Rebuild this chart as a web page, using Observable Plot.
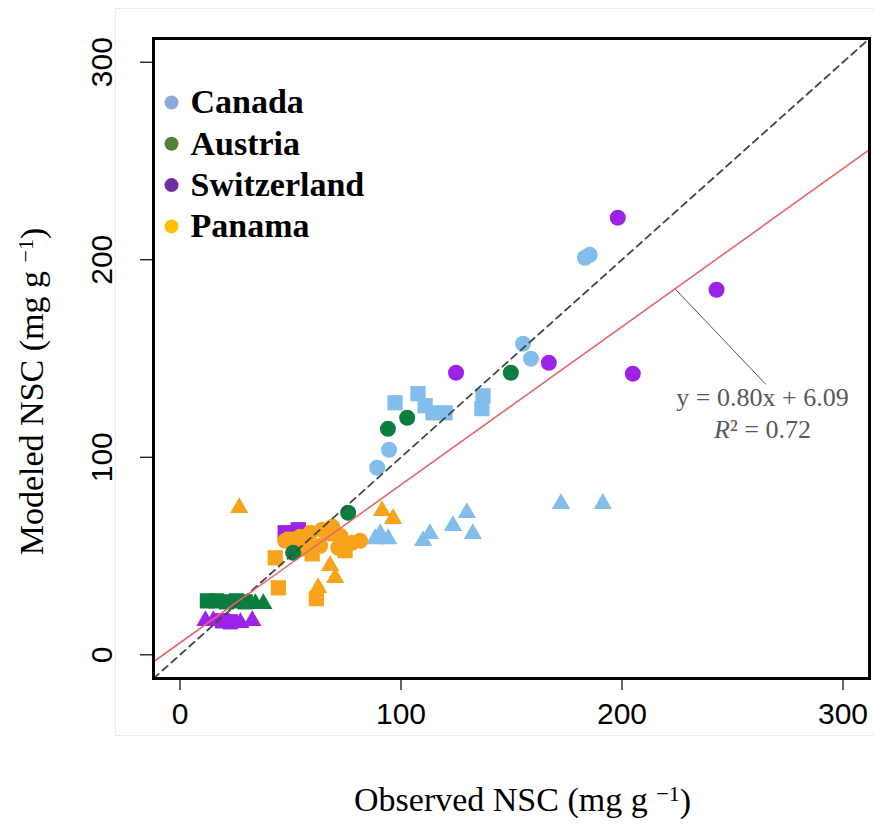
<!DOCTYPE html>
<html><head><meta charset="utf-8">
<script src="https://cdn.jsdelivr.net/npm/d3@7"></script>
<script src="https://cdn.jsdelivr.net/npm/@observablehq/plot@0.6"></script>
<style>
body{margin:0;background:#fff;}
#wrap{position:relative;width:874px;height:825px;overflow:hidden;}
#border{position:absolute;left:115px;top:8px;width:765px;height:728px;border:1px solid #ececec;box-sizing:border-box;pointer-events:none;}
#wrap svg{position:absolute;left:0;top:0;}
</style></head><body><div id="wrap"><div id="border"></div></div>
<script>
// ---- data: [observed NSC, modeled NSC, shape] ----
const canada = [
  [89.2, 94.7, "circle"], [94.6, 103.8, "circle"], [155.2, 157.5, "circle"], [158.8, 149.9, "circle"],
  [183.2, 201.0, "circle"], [185.4, 202.5, "circle"],
  [97.3, 127.6, "square"], [107.7, 132.2, "square"], [110.9, 126.1, "square"], [114.5, 122.5, "square"],
  [119.9, 122.5, "square"], [137.1, 131.1, "square"], [136.6, 124.6, "square"],
  [172.4, 76.5, "triangle"], [191.3, 76.5, "triangle"], [129.8, 71.9, "triangle"], [132.5, 61.3, "triangle"],
  [123.5, 65.3, "triangle"], [113.1, 61.3, "triangle"], [110.0, 57.7, "triangle"], [90.6, 61.3, "triangle"],
  [94.2, 58.7, "triangle"], [88.3, 58.7, "triangle"]
];
const austria = [
  [94.1, 114.4, "circle"], [102.8, 120.0, "circle"], [149.7, 142.8, "circle"], [76.1, 71.9, "circle"], [51.2, 51.6, "circle"],
  [12.4, 27.3, "square"], [16.4, 27.3, "square"], [21.0, 26.8, "square"], [25.5, 27.3, "square"], [29.5, 26.8, "square"],
  [34.1, 25.8, "triangle"], [37.7, 25.8, "triangle"]
];
const switzerland = [
  [124.9, 142.8, "circle"], [166.9, 147.8, "circle"], [198.1, 221.3, "circle"], [242.8, 184.8, "circle"], [204.9, 142.3, "circle"],
  [47.6, 61.8, "square"], [53.5, 63.3, "square"], [19.2, 17.2, "square"], [22.8, 16.7, "square"],
  [11.5, 17.2, "triangle"], [15.1, 17.2, "triangle"], [27.3, 16.2, "triangle"], [32.7, 17.2, "triangle"]
];
const panama = [
  [47.6, 57.7, "circle"], [54.4, 59.8, "circle"], [59.0, 61.8, "circle"], [64.3, 63.3, "circle"], [68.9, 64.8, "circle"],
  [72.5, 60.3, "circle"], [77.9, 56.7, "circle"], [81.5, 57.7, "circle"], [71.6, 54.2, "circle"], [63.4, 55.2, "circle"], [58.0, 55.2, "circle"],
  [43.1, 49.1, "square"], [44.5, 33.9, "square"], [61.7, 28.4, "square"], [54.4, 53.7, "square"], [67.1, 61.3, "square"],
  [74.7, 52.7, "square"], [59.8, 51.1, "square"], [50.5, 58.5, "square"],
  [26.8, 74.4, "triangle"], [91.4, 72.9, "triangle"], [96.4, 68.9, "triangle"], [67.9, 45.1, "triangle"],
  [70.2, 39.0, "triangle"], [62.5, 33.9, "triangle"]
];
const countries = ["Canada", "Austria", "Switzerland", "Panama"];
const pointColors = {Canada: "#82bdec", Austria: "#0b7d3e", Switzerland: "#9b22e6", Panama: "#f7a41c"};
const legendColors = ["#8eaadb", "#548235", "#7030a0", "#ffc000"];
const drawOrder = [["Canada", canada], ["Switzerland", switzerland], ["Panama", panama], ["Austria", austria]];
const ticks = [0, 100, 200, 300];
const domain = [-12, 312];
const fitSlope = 0.80, fitIntercept = 6.09, r2 = 0.72;
const eqText = "y = 0.80x + 6.09";
const r2Text = "R² = 0.72";
const xLabel = "Observed NSC (mg g-1)";
const yLabel = "Modeled NSC (mg g-1)";
const leader = {onFitObs: 224, textObs: 265, textMod: 137};

const shapeR = {circle: 8, square: 8.6, triangle: 6.8};
const serif = "Liberation Serif, Times New Roman, serif";

const marks = [];
// points
for (const [name, arr] of drawOrder) {
  for (const shape of ["triangle", "square", "circle"]) {
    const rows = arr.filter(d => d[2] === shape).map(d => ({obs: d[0], mod: d[1]}));
    marks.push(Plot.dot(rows, {x: "obs", y: "mod", symbol: shape, r: shapeR[shape], fill: pointColors[name], stroke: "none"}));
  }
}
// reference lines drawn on top of points (as in the reference)
marks.push(Plot.line(domain.map(x => ({x, y: x})), {x: "x", y: "y", stroke: "#444", strokeWidth: 1.8, strokeDasharray: "7,5", clip: true}));
marks.push(Plot.line(domain.map(x => ({x, y: fitSlope * x + fitIntercept})), {x: "x", y: "y", stroke: "#e5676b", strokeWidth: 1.6, clip: true}));
// leader line for equation
marks.push(Plot.link([leader], {x1: "onFitObs", y1: d => fitSlope * d.onFitObs + fitIntercept, x2: "textObs", y2: "textMod", stroke: "#555", strokeWidth: 1}));
// equation text
marks.push(Plot.text([eqText], {frameAnchor: "top-left", dx: 609, dy: 359, textAnchor: "middle", lineAnchor: "middle", fontSize: 26, fontFamily: serif, fill: "#595959"}));
marks.push(Plot.text([r2Text], {frameAnchor: "top-left", dx: 609, dy: 391, textAnchor: "middle", lineAnchor: "middle", fontSize: 26, fontFamily: serif, fill: "#595959"}));
// legend
countries.forEach((c, i) => {
  marks.push(Plot.dot([c], {frameAnchor: "top-left", dx: 18, dy: 64 + 41.3 * i, r: 7, fill: legendColors[i]}));
  marks.push(Plot.text([c], {frameAnchor: "top-left", dx: 37, dy: 64 + 41.3 * i, textAnchor: "start", lineAnchor: "middle", fontSize: 34, fontWeight: "bold", fontFamily: serif, fill: "#000"}));
});
// axes
marks.push(Plot.axisX({ticks, tickSize: 12, tickPadding: 12, fontSize: 30, label: null, strokeWidth: 1.2}));
marks.push(Plot.axisY({ticks, tickSize: 13, tickPadding: 29, tickRotate: -90, fontSize: 30, label: null, strokeWidth: 1.2}));
// axis titles
marks.push(Plot.text([xLabel], {frameAnchor: "bottom", dx: 11, dy: 122, textAnchor: "middle", lineAnchor: "middle", fontSize: 34, fontFamily: serif, fill: "#000"}));
marks.push(Plot.text([yLabel], {frameAnchor: "left", dx: -121, dy: 33, rotate: -90, textAnchor: "middle", lineAnchor: "middle", fontSize: 34, fontFamily: serif, fill: "#000"}));
marks.push(Plot.frame({stroke: "#000", strokeWidth: 3}));

const chart = Plot.plot({
  width: 874, height: 825,
  marginLeft: 153, marginRight: 5, marginTop: 38, marginBottom: 147,
  x: {domain}, y: {domain},
  style: {fontFamily: "Liberation Sans, Arial, sans-serif", background: "transparent", overflow: "visible", color: "#000"},
  marks
});
document.getElementById("wrap").appendChild(chart);

// rich text: superscripts and italic R
d3.select(chart).selectAll("text").each(function() {
  const t = d3.select(this);
  const s = this.textContent;
  if (s === xLabel || s === yLabel) {
    const base = s.replace(" (mg g-1)", "");
    t.text(null);
    t.append("tspan").text(base + " (mg g ");
    t.append("tspan").attr("dy", "-0.45em").attr("font-size", "22px").text("−1");
    t.append("tspan").attr("dy", "0.3em").text(")");
  } else if (s === r2Text) {
    t.text(null);
    t.append("tspan").attr("font-style", "italic").text("R");
    t.append("tspan").text("² = 0.72");
  }
});
</script>
</body></html>
